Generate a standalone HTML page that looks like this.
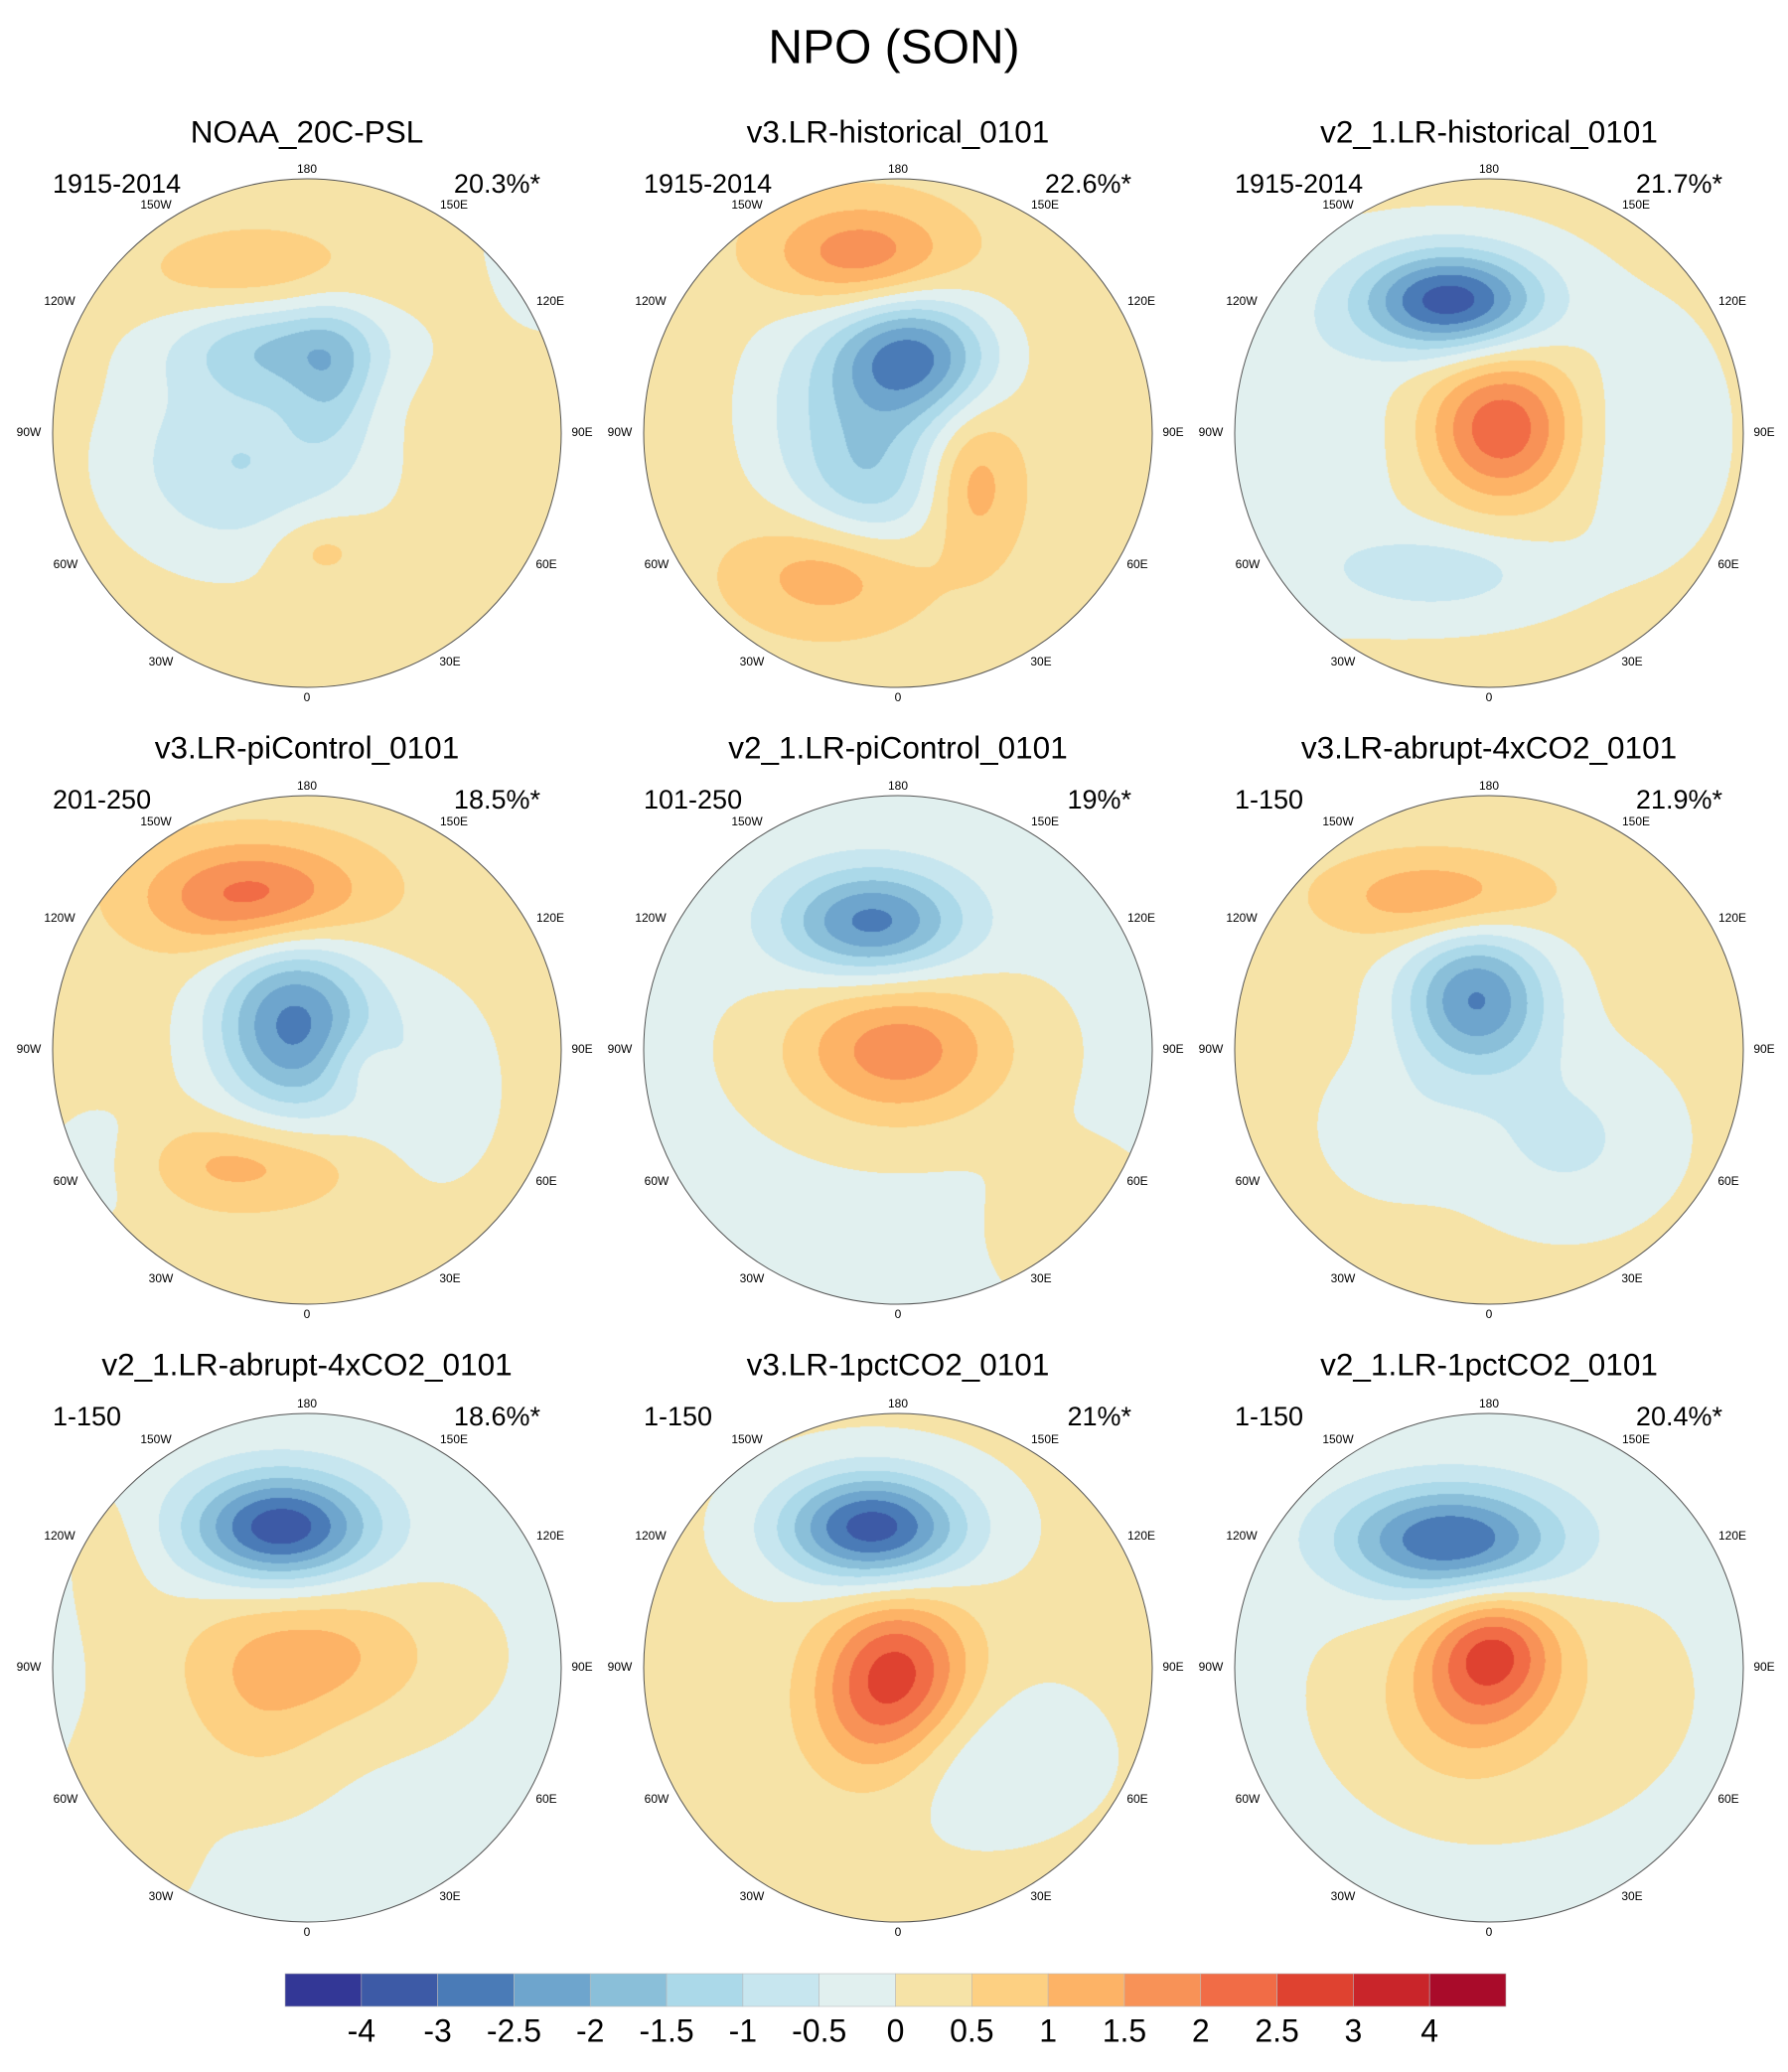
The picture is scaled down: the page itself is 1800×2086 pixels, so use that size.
<!DOCTYPE html>
<html><head><meta charset="utf-8">
<style>
html,body{margin:0;padding:0;background:#fff;}
#wrap{position:relative;width:1800px;height:2086px;overflow:hidden;font-family:"Liberation Sans",sans-serif;}
canvas{position:absolute;}
svg{position:absolute;left:0;top:0;}
</style></head>
<body>
<div id="wrap">
<svg id="ov" width="1800" height="2086"></svg>
</div>
<script>
// Colour levels (colorbar)
const levels = [-4,-3,-2.5,-2,-1.5,-1,-0.5,0,0.5,1,1.5,2,2.5,3,4];
const levelLabels = ["-4","-3","-2.5","-2","-1.5","-1","-0.5","0","0.5","1","1.5","2","2.5","3","4"];
const colors = ["#333796","#3d5aa6","#4a7bb7","#6ea5cd","#8abfd9","#abd9e9","#c7e6ef","#e1f0ef","#f6e3a7","#fdd082","#fdb366","#f89257","#f16c46","#df4230","#c9252a","#a90b2a"];
// Panel metadata
const titles = ["NOAA_20C-PSL","v3.LR-historical_0101","v2_1.LR-historical_0101","v3.LR-piControl_0101","v2_1.LR-piControl_0101","v3.LR-abrupt-4xCO2_0101","v2_1.LR-abrupt-4xCO2_0101","v3.LR-1pctCO2_0101","v2_1.LR-1pctCO2_0101"];
const periods = ["1915-2014","1915-2014","1915-2014","201-250","101-250","1-150","1-150","1-150","1-150"];
const variances = ["20.3%*","22.6%*","21.7%*","18.5%*","19%*","21.9%*","18.6%*","21%*","20.4%*"];
// Field: base value + anomaly centres [x, y, amplitude, sx, sy] in unit-disk coords
const bases = [0.25,0.3,0.1,0.25,-0.1,0.2,-0.1,0.1,-0.1];
const centres = [
 [[-0.2,-0.6,0.75,0.3,0.14],[-0.1,-0.35,-1.6,0.3,0.14],[0.1,-0.2,-1.0,0.12,0.2],[-0.2,0.15,-0.8,0.35,0.25],[0.05,0.45,0.65,0.14,0.1],[0.95,-0.8,-0.6,0.2,0.3],[-0.35,0.05,-0.5,0.3,0.3]],
 [[-0.15,-0.7,1.6,0.25,0.14],[0.05,-0.3,-2.9,0.22,0.17],[-0.1,0.15,-1.6,0.2,0.25],[-0.25,0.55,1.2,0.25,0.15],[0.3,0.2,1.0,0.12,0.2],[-0.4,-0.1,-0.6,0.2,0.3]],
 [[-0.15,-0.52,-3.4,0.25,0.14],[0.05,-0.02,2.3,0.2,0.2],[-0.2,0.55,-0.9,0.3,0.12],[-0.8,0.0,-0.6,0.3,0.4],[0.6,0.0,-0.5,0.2,0.3]],
 [[-0.2,-0.6,2.1,0.3,0.15],[-0.05,-0.1,-2.9,0.22,0.25],[-0.25,0.45,1.0,0.3,0.12],[0.5,0.15,-0.6,0.2,0.3],[0.2,0.05,0.6,0.1,0.1],[-0.8,0.45,-0.5,0.2,0.2]],
 [[-0.1,-0.5,-2.6,0.25,0.15],[0.0,0.0,1.9,0.3,0.2],[0.7,0.7,0.5,0.2,0.2]],
 [[-0.2,-0.6,1.3,0.3,0.12],[-0.05,-0.2,-2.7,0.2,0.2],[0.3,0.35,-0.8,0.3,0.25],[-0.4,0.3,-0.5,0.2,0.2]],
 [[-0.1,-0.55,-3.3,0.25,0.15],[0.0,-0.05,1.3,0.35,0.2],[-0.2,0.25,0.5,0.2,0.2],[-0.7,0.6,0.3,0.2,0.3],[-0.75,-0.45,0.3,0.12,0.2]],
 [[-0.1,-0.55,-3.4,0.25,0.15],[0.0,0.0,2.3,0.2,0.2],[-0.1,0.25,1.0,0.2,0.2],[0.3,0.35,-0.6,0.3,0.2]],
 [[-0.15,-0.5,-3.0,0.3,0.15],[0.02,-0.07,2.0,0.17,0.16],[-0.1,0.15,0.8,0.2,0.2],[0.05,0.1,0.6,0.4,0.3]]
];
const lonLabels = ["180","150W","150E","120W","120E","90W","90E","60W","60E","30W","30E","0"];
const lonNames = ["lon-180","lon-150w","lon-150e","lon-120w","lon-120e","lon-90w","lon-90e","lon-60w","lon-60e","lon-30w","lon-30e","lon-0"];
const lonOff = [[0,-265],[-152,-229],[148,-229],[-249,-132],[245,-132],[-280,0],[277,0],[-243,133],[241,133],[-147,231],[144,231],[0,267]];

const R = 256;
const colX = [309,904,1499], rowY = [436,1057,1679], titleY = [135,755,1376];
const wrap = document.getElementById('wrap');
const ov = document.getElementById('ov');
const NS = "http://www.w3.org/2000/svg";

function colorFor(v){
  let i=0; while(i<levels.length && v>=levels[i]) i++;
  return colors[i];
}
function hexRGB(h){return [parseInt(h.substr(1,2),16),parseInt(h.substr(3,2),16),parseInt(h.substr(5,2),16)];}
function txt(x,y,s,size,anchor,name){
  const t=document.createElementNS(NS,'text');
  t.setAttribute('x',x);t.setAttribute('y',y);t.setAttribute('font-size',size);
  t.setAttribute('text-anchor',anchor);t.setAttribute('dominant-baseline','middle');
  t.setAttribute('font-family','"Liberation Sans", sans-serif');
  
  
  t.textContent=s; ov.appendChild(t); return t;
}

txt(900,51,"NPO (SON)",48,'middle','main-title');

for(let p=0;p<9;p++){
  const cx=colX[p%3], cy=rowY[Math.floor(p/3)];
  const cv=document.createElement('canvas');
  cv.width=2*R; cv.height=2*R;
  cv.style.left=(cx-R)+'px'; cv.style.top=(cy-R)+'px';
  
  
  wrap.insertBefore(cv, ov);
  const ctx=cv.getContext('2d');
  const img=ctx.createImageData(2*R,2*R);
  for(let j=0;j<2*R;j++){
    for(let i=0;i<2*R;i++){
      const x=(i-R+0.5)/R, y=(j-R+0.5)/R;
      if(x*x+y*y>1) continue;
      let v=bases[p];
      for(const c of centres[p]){
        const dx=(x-c[0])/c[3], dy=(y-c[1])/c[4];
        v+=c[2]*Math.exp(-0.5*(dx*dx+dy*dy));
      }
      const rgb=hexRGB(colorFor(v));
      const k=(j*2*R+i)*4;
      img.data[k]=rgb[0];img.data[k+1]=rgb[1];img.data[k+2]=rgb[2];img.data[k+3]=255;
    }
  }
  ctx.putImageData(img,0,0);
  const circ=document.createElementNS(NS,'circle');
  circ.setAttribute('cx',cx);circ.setAttribute('cy',cy);circ.setAttribute('r',R);
  circ.setAttribute('fill','none');circ.setAttribute('stroke','#555');circ.setAttribute('stroke-width','1');
  
  
  ov.appendChild(circ);
  const ty=titleY[Math.floor(p/3)];
  txt(cx,ty,titles[p],31.5,'middle','panel-title-'+(p+1));
  txt(cx-256,ty+52,periods[p],27,'start','period-label-'+(p+1));
  txt(cx+235,ty+52,variances[p],27,'end','variance-label-'+(p+1));
  for(let l=0;l<lonLabels.length;l++){
    txt(cx+lonOff[l][0],cy+lonOff[l][1],lonLabels[l],12,'middle',lonNames[l]+'-'+(p+1));
  }
}

// Colorbar
const cbX0=287, cbX1=1516, cbY=1987, cbH=33;
const bw=(cbX1-cbX0)/colors.length;
for(let k=0;k<colors.length;k++){
  const r=document.createElementNS(NS,'rect');
  r.setAttribute('x',cbX0+k*bw);r.setAttribute('y',cbY);r.setAttribute('width',bw);r.setAttribute('height',cbH);
  r.setAttribute('fill',colors[k]);r.setAttribute('stroke','#bbb');r.setAttribute('stroke-width','0.6');
  
  
  ov.appendChild(r);
}
for(let k=0;k<levelLabels.length;k++){
  txt(cbX0+(k+1)*bw,2047,levelLabels[k],32,'middle','colorbar-tick-label');
}
</script>
</body></html>
